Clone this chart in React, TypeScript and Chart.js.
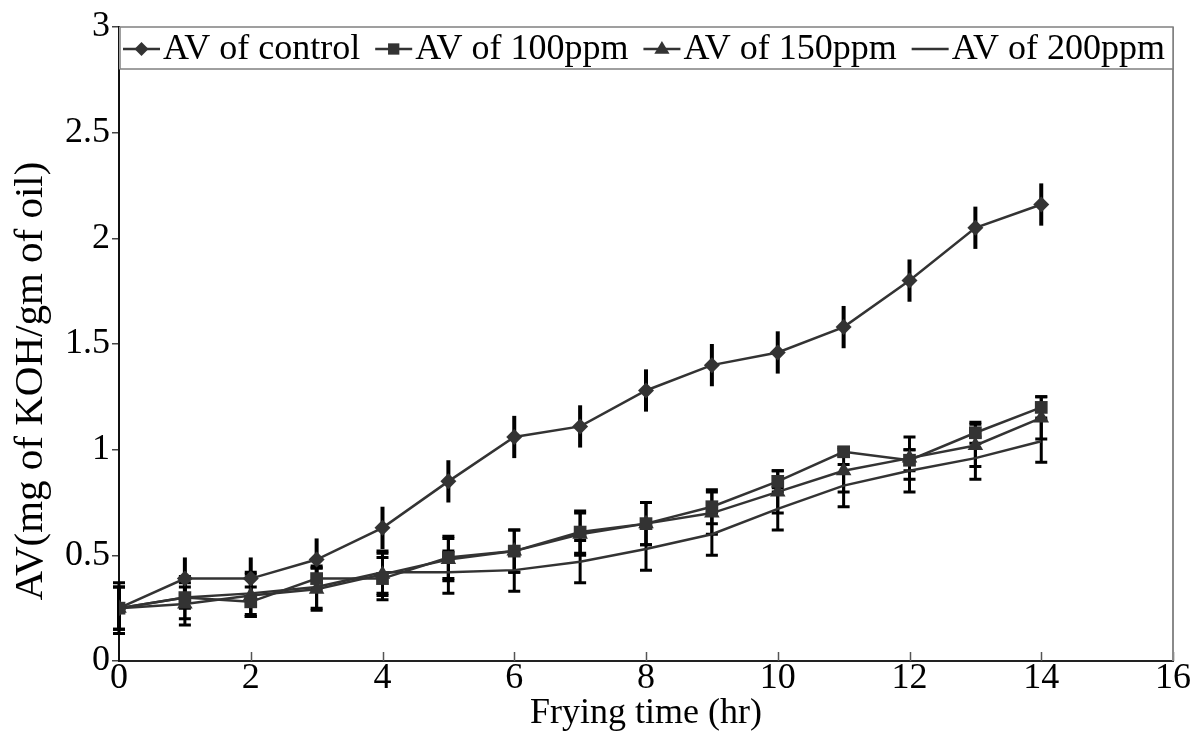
import React, { useEffect, useRef } from "react";
import { Chart, registerables } from "chart.js";

Chart.register(...registerables);

const hours = [0, 1, 2, 3, 4, 5, 6, 7, 8, 9, 10, 11, 12, 13, 14];
const avControl = [0.25, 0.39, 0.39, 0.48, 0.63, 0.85, 1.06, 1.11, 1.28, 1.4, 1.46, 1.58, 1.8, 2.05, 2.16];
const av100 = [0.25, 0.3, 0.28, 0.39, 0.39, 0.49, 0.52, 0.61, 0.65, 0.73, 0.85, 0.99, 0.95, 1.08, 1.2];
const av150 = [0.25, 0.27, 0.31, 0.34, 0.41, 0.48, 0.52, 0.6, 0.65, 0.7, 0.8, 0.9, 0.96, 1.02, 1.15];
const av200 = [0.25, 0.3, 0.32, 0.35, 0.42, 0.42, 0.43, 0.47, 0.53, 0.6, 0.72, 0.83, 0.9, 0.96, 1.04];

const errControl = [0.1, 0.1, 0.1, 0.1, 0.1, 0.1, 0.1, 0.1, 0.1, 0.1, 0.1, 0.1, 0.1, 0.1, 0.1];
const err100 = [0.12, 0.05, 0.07, 0.05, 0.1, 0.1, 0.1, 0.1, 0.1, 0.08, 0.05, 0.02, 0.05, 0.05, 0.05];
const err150 = [0.1, 0.1, 0.1, 0.1, 0.1, 0.1, 0.1, 0.1, 0.1, 0.1, 0.1, 0.1, 0.1, 0.1, 0.1];
const err200 = [0.1, 0.1, 0.1, 0.1, 0.1, 0.1, 0.1, 0.1, 0.1, 0.1, 0.1, 0.1, 0.1, 0.1, 0.1];

const seriesLabels = ["AV of control", "AV of 100ppm", "AV of 150ppm", "AV of 200ppm"];
const xTicks = [0, 2, 4, 6, 8, 10, 12, 14, 16];
const yTicks = [0, 0.5, 1, 1.5, 2, 2.5, 3];
const xTitle = "Frying time (hr)";
const yTitle = "AV(mg of KOH/gm of oil)";

const FONT = "'Liberation Serif', 'Times New Roman', serif";
const LINE = "#333333";

function drawMarker(ctx: CanvasRenderingContext2D, style: string, x: number, y: number, r: number) {
  ctx.beginPath();
  if (style === "rectRot") {
    ctx.moveTo(x, y - r);
    ctx.lineTo(x + r, y);
    ctx.lineTo(x, y + r);
    ctx.lineTo(x - r, y);
    ctx.closePath();
  } else if (style === "rect") {
    const s = r * Math.SQRT1_2;
    ctx.rect(x - s, y - s, 2 * s, 2 * s);
  } else if (style === "triangle") {
    ctx.moveTo(x, y - r);
    ctx.lineTo(x + r * 0.95, y + r * 0.6);
    ctx.lineTo(x - r * 0.95, y + r * 0.6);
    ctx.closePath();
  } else {
    return;
  }
  ctx.fill();
}

const errorBarPlugin = {
  id: "errorBars",
  beforeDatasetsDraw(chart: any) {
    const { ctx, scales } = chart;
    const xs = scales.x;
    const ys = scales.y;
    ctx.save();
    ctx.strokeStyle = "#000";
    chart.data.datasets.forEach((ds: any) => {
      const errs: number[] = ds.errors;
      const cap: number = ds.capHalf;
      ctx.lineWidth = ds.errWidth;
      ds.data.forEach((p: any, j: number) => {
        const px = xs.getPixelForValue(p.x);
        const top = ys.getPixelForValue(p.y + errs[j]);
        const bot = ys.getPixelForValue(p.y - errs[j]);
        ctx.beginPath();
        ctx.moveTo(px, top);
        ctx.lineTo(px, bot);
        if (cap > 0) {
          ctx.moveTo(px - cap, top);
          ctx.lineTo(px + cap, top);
          ctx.moveTo(px - cap, bot);
          ctx.lineTo(px + cap, bot);
        }
        ctx.stroke();
      });
    });
    ctx.restore();
  },
};

const framePlugin = {
  id: "frame",
  afterDraw(chart: any) {
    const { ctx, chartArea, scales } = chart;
    const { left, right, top, bottom } = chartArea;
    ctx.save();
    // inward x ticks
    ctx.strokeStyle = "#555";
    ctx.lineWidth = 1.5;
    xTicks.forEach((v) => {
      if (v === 0) return;
      const px = Math.round(scales.x.getPixelForValue(v)) + 0.5;
      ctx.beginPath();
      ctx.moveTo(px, bottom);
      ctx.lineTo(px, bottom - 9);
      ctx.stroke();
    });
    // right border
    ctx.strokeStyle = "#8a8a8a";
    ctx.lineWidth = 2;
    ctx.beginPath();
    ctx.moveTo(right, top);
    ctx.lineTo(right, bottom);
    ctx.stroke();

    // legend box
    const bh = 42;
    ctx.fillStyle = "#fff";
    ctx.fillRect(left, top, right - left, bh);
    ctx.strokeStyle = "#808080";
    ctx.lineWidth = 1.5;
    ctx.strokeRect(left + 1, top, right - left - 1, bh);

    ctx.font = `36px ${FONT}`;
    ctx.textBaseline = "middle";
    ctx.textAlign = "left";
    const cy = top + bh / 2 + 1;
    const startX = left + 4;
    const endX = right - 8;
    const symW = 40;
    const widths = chart.data.datasets.map((ds: any) => symW + ctx.measureText(ds.label).width);
    const total = widths.reduce((a: number, b: number) => a + b, 0);
    const n = widths.length;
    const gap = n > 1 ? (endX - startX - total) / (n - 1) : 0;
    let cx = startX;
    chart.data.datasets.forEach((ds: any, i: number) => {
      ctx.strokeStyle = LINE;
      ctx.lineWidth = 2.5;
      ctx.beginPath();
      ctx.moveTo(cx, cy);
      ctx.lineTo(cx + 37, cy);
      ctx.stroke();
      ctx.fillStyle = LINE;
      drawMarker(ctx, ds.pointStyle, cx + 18.5, cy, ds.legendRadius);
      ctx.fillStyle = "#000";
      ctx.fillText(ds.label, cx + symW, cy + 1);
      cx += widths[i] + gap;
    });

    // y title
    ctx.save();
    ctx.translate(31, 381);
    ctx.rotate(-Math.PI / 2);
    ctx.textAlign = "center";
    ctx.textBaseline = "middle";
    ctx.fillStyle = "#000";
    ctx.font = `41px ${FONT}`;
    ctx.fillText(yTitle, 0, 0);
    ctx.restore();

    ctx.restore();
  },
};

export default function App() {
  const ref = useRef<HTMLCanvasElement | null>(null);

  useEffect(() => {
    if (!ref.current) return;
    const mk = (vals: number[]) => hours.map((h, i) => ({ x: h, y: vals[i] }));
    const common = {
      borderColor: LINE,
      backgroundColor: LINE,
      pointBackgroundColor: LINE,
      pointBorderColor: LINE,
      borderWidth: 2.5,
      pointBorderWidth: 0,
      tension: 0,
      fill: false,
    };
    const chart = new Chart(ref.current, {
      type: "line",
      data: {
        datasets: [
          {
            ...common,
            label: seriesLabels[0],
            data: mk(avControl),
            pointStyle: "rectRot",
            pointRadius: 8,
            legendRadius: 7,
            errors: errControl,
            capHalf: 0,
            errWidth: 4,
          },
          {
            ...common,
            label: seriesLabels[1],
            data: mk(av100),
            pointStyle: "rect",
            pointRadius: 9,
            legendRadius: 8,
            errors: err100,
            capHalf: 6,
            errWidth: 3,
          },
          {
            ...common,
            label: seriesLabels[2],
            data: mk(av150),
            pointStyle: "triangle",
            pointRadius: 9,
            legendRadius: 8,
            errors: err150,
            capHalf: 6,
            errWidth: 3,
          },
          {
            ...common,
            label: seriesLabels[3],
            data: mk(av200),
            pointStyle: "line",
            pointRadius: 0,
            legendRadius: 0,
            errors: err200,
            capHalf: 6,
            errWidth: 3,
          },
        ] as any,
      },
      options: {
        animation: false,
        responsive: true,
        maintainAspectRatio: false,
        layout: { padding: { left: 0, right: 23, top: 27, bottom: 0 } },
        plugins: {
          legend: { display: false },
          tooltip: { enabled: false },
        },
        scales: {
          x: {
            type: "linear",
            min: 0,
            max: 16,
            afterBuildTicks: (s: any) => {
              s.ticks = xTicks.map((v) => ({ value: v }));
            },
            afterFit: (s: any) => {
              s.height = 89;
            },
            grid: { display: false, drawTicks: false },
            border: { display: true, color: "#222", width: 2 },
            ticks: {
              color: "#000",
              font: { family: FONT, size: 36 },
              padding: -4,
              maxRotation: 0,
              callback: (v: any) => String(v),
            },
            title: {
              display: true,
              text: xTitle,
              color: "#000",
              font: { family: FONT, size: 36 },
              padding: { top: 0, bottom: 15 },
            },
          },
          y: {
            type: "linear",
            min: 0,
            max: 3,
            afterBuildTicks: (s: any) => {
              s.ticks = yTicks.map((v) => ({ value: v }));
            },
            afterFit: (s: any) => {
              s.width = 119;
            },
            grid: { drawOnChartArea: false, drawTicks: true, tickLength: 7, color: "#444", lineWidth: 1.5 },
            border: { display: true, color: "#111", width: 2 },
            ticks: {
              color: "#000",
              font: { family: FONT, size: 36 },
              padding: 2,
              callback: (v: any) => String(v),
            },
            title: { display: false },
          },
        },
      },
      plugins: [errorBarPlugin, framePlugin],
    } as any);
    return () => chart.destroy();
  }, []);

  return (
    <div style={{ position: "absolute", left: 0, top: 0, width: 1196, height: 750, background: "#fff" }}>
      <canvas ref={ref} />
    </div>
  );
}
